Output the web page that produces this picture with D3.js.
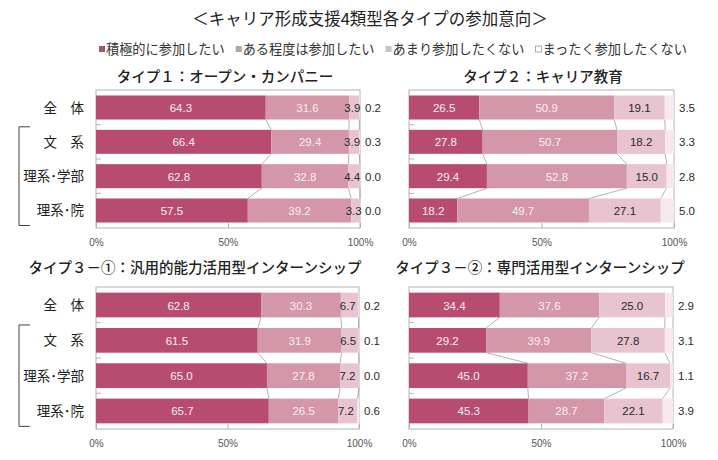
<!DOCTYPE html>
<html>
<head>
<meta charset="utf-8">
<script src="https://cdn.jsdelivr.net/npm/d3@7"></script>
<style>
  body { margin: 0; background: #fff; }
  text { font-family: "Noto Sans CJK JP", "Noto Sans", sans-serif; }
  .num { font-family: "Liberation Sans", Arial, sans-serif; }
</style>
</head>
<body>
<svg id="chart"></svg>
<script>
// data
const seriesNames = ["積極的に参加したい", "ある程度は参加したい", "あまり参加したくない", "まったく参加したくない"];
const groups = ["全\u3000体", "文\u3000系", "理系･学部", "理系･院"];
const panelTitles = [
  "タイプ１：オープン・カンパニー",
  "タイプ２：キャリア教育",
  "タイプ３－①：汎用的能力活用型インターンシップ",
  "タイプ３－②：専門活用型インターンシップ"
];
const type1 = [[64.3, 31.6, 3.9, 0.2], [66.4, 29.4, 3.9, 0.3], [62.8, 32.8, 4.4, 0.0], [57.5, 39.2, 3.3, 0.0]];
const type2 = [[26.5, 50.9, 19.1, 3.5], [27.8, 50.7, 18.2, 3.3], [29.4, 52.8, 15.0, 2.8], [18.2, 49.7, 27.1, 5.0]];
const type31 = [[62.8, 30.3, 6.7, 0.2], [61.5, 31.9, 6.5, 0.1], [65.0, 27.8, 7.2, 0.0], [65.7, 26.5, 7.2, 0.6]];
const type32 = [[34.4, 37.6, 25.0, 2.9], [29.2, 39.9, 27.8, 3.1], [45.0, 37.2, 16.7, 1.1], [45.3, 28.7, 22.1, 3.9]];
const xTicks = [0, 50, 100];

// constants
const width = 718, height = 460;
const colors = ["#b84c70", "#d497a9", "#e8c4d0", "#f7e8ee"];
const legendColors = ["#a0566e", "#a9a9a9", "#c4c4c4", "#ffffff"];
const labelColors = ["#fdeef3", "#fdeef3", "#2a2a2a", "#2a2a2a"];

const svg = d3.select('svg#chart').attr('width', width).attr('height', height);

// main title
svg.append('text').attr('x', 370).attr('y', 25).attr('text-anchor', 'middle')
  .attr('font-size', 16.5).attr('fill', '#222')
  .text("＜キャリア形成支援4類型各タイプの参加意向＞");

// legend
let lx = 99;
seriesNames.forEach((name, i) => {
  const g = svg.append('g').attr('transform', 'translate(' + lx + ',54)');
  g.append('rect').attr('x', 0).attr('y', -8).attr('width', 6).attr('height', 6)
    .attr('fill', legendColors[i]).attr('stroke', i === 3 ? '#999' : 'none').attr('stroke-width', 0.8);
  const t = g.append('text').attr('x', 7).attr('y', 0).attr('font-size', 13.2).attr('fill', '#333').text(name);
  lx += 7 + t.node().getComputedTextLength() + 11;
});

const panels = [
  { data: type1, title: panelTitles[0], tx: 225, ty: 82, x0: 96, x1: 360, top: 90, bottom: 228, labels: true },
  { data: type2, title: panelTitles[1], tx: 543, ty: 82, x0: 409, x1: 674, top: 90, bottom: 228, labels: false },
  { data: type31, title: panelTitles[2], tx: 195, ty: 273, x0: 96, x1: 359, top: 287, bottom: 429, labels: true },
  { data: type32, title: panelTitles[3], tx: 540, ty: 273, x0: 409, x1: 673, top: 287, bottom: 429, labels: false }
];

panels.forEach(p => {
  const g = svg.append('g');
  const x = d3.scaleLinear().domain([0, 100]).range([p.x0, p.x1]);
  const y = d3.scaleBand().domain(groups).range([p.top, p.bottom]).paddingInner(0.3).paddingOuter(0.16);

  g.append('text').attr('x', p.tx).attr('y', p.ty).attr('text-anchor', 'middle')
    .attr('font-size', 14.5).attr('font-weight', 500).attr('fill', '#222').text(p.title);

  // frame
  g.append('rect').attr('x', p.x0).attr('y', p.top).attr('width', p.x1 - p.x0).attr('height', p.bottom - p.top)
    .attr('fill', 'none').attr('stroke', '#b4b4b4').attr('stroke-width', 1);

  // stacked rows
  const rows = p.data.map((vals, i) => {
    let acc = 0;
    return vals.map((v, j) => { const s = { key: groups[i], series: j, v: v, x0: acc, x1: Math.min(100, acc + v) }; acc += v; return s; });
  });

  // series connector lines
  for (let i = 0; i < rows.length - 1; i++) {
    for (let j = 0; j < 3; j++) {
      g.append('line')
        .attr('x1', x(rows[i][j].x1)).attr('y1', y(groups[i]) + y.bandwidth())
        .attr('x2', x(rows[i + 1][j].x1)).attr('y2', y(groups[i + 1]))
        .attr('stroke', '#a0a0a0').attr('stroke-width', 0.8);
    }
  }

  rows.forEach(row => {
    g.selectAll(null).data(row).enter().append('rect')
      .attr('x', d => x(d.x0)).attr('y', d => y(d.key))
      .attr('width', d => Math.max(0, x(d.x1) - x(d.x0))).attr('height', y.bandwidth())
      .attr('fill', d => colors[d.series]);

    g.selectAll(null).data(row).enter().append('text').attr('class', 'num')
      .attr('x', d => d.series === 3 ? p.x1 + 5 : x((d.x0 + d.x1) / 2) - (d.v < 8 ? 2 : 0))
      .attr('y', d => y(d.key) + y.bandwidth() / 2 + 4.5)
      .attr('text-anchor', d => d.series === 3 ? 'start' : 'middle')
      .attr('font-size', 11.5)
      .attr('fill', d => d.series === 3 ? '#2a2a2a' : labelColors[d.series])
      .text(d => d.v.toFixed(1));
  });

  // category ticks between bands
  for (let i = 1; i < groups.length; i++) {
    const yy = y(groups[i]) - y.step() * y.paddingInner() / 2;
    g.append('line').attr('x1', p.x0).attr('x2', p.x0 + 5).attr('y1', yy).attr('y2', yy)
      .attr('stroke', '#b4b4b4').attr('stroke-width', 1);
  }

  // x axis
  const xAxis = d3.axisBottom(x).tickValues(xTicks).tickFormat(d => d + '%').tickSize(-5).tickPadding(11);
  const ax = g.append('g').attr('transform', 'translate(0,' + p.bottom + ')').call(xAxis);
  ax.select('.domain').remove();
  ax.selectAll('line').attr('stroke', '#b4b4b4');
  ax.selectAll('text').attr('class', 'num').attr('font-size', 10).attr('fill', '#555')
    .attr('font-family', '"Liberation Sans", Arial, sans-serif');

  if (p.labels) {
    g.selectAll(null).data(groups).enter().append('text')
      .attr('x', 84).attr('y', d => y(d) + y.bandwidth() / 2 + 5)
      .attr('text-anchor', 'end').attr('font-size', 13.5).attr('fill', '#222').text(d => d);
    // bracket around the sub-groups
    const bt = y(groups[1]) - 3, bb = y(groups[3]) + y.bandwidth() + 3;
    g.append('path').attr('d', 'M30,' + bt + 'H19V' + bb + 'H30')
      .attr('fill', 'none').attr('stroke', '#444').attr('stroke-width', 1);
  }
});
</script>
</body>
</html>
